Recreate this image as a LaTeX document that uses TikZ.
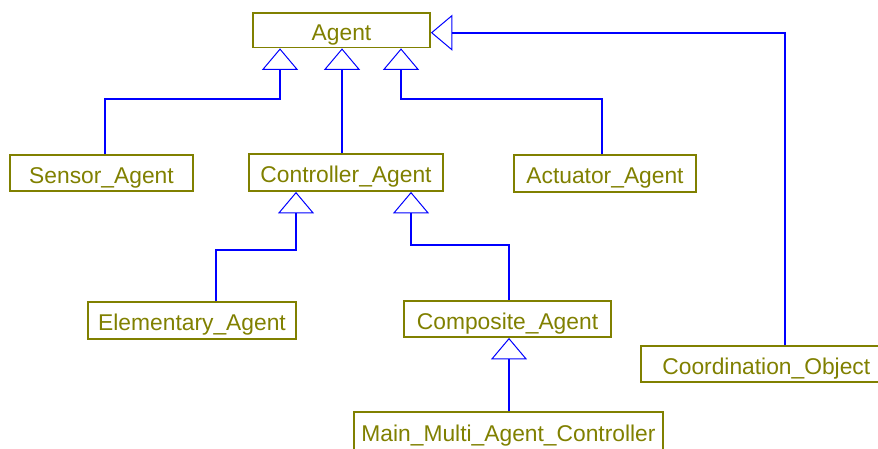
\documentclass[tikz,border=0pt]{standalone}
\usepackage{fontspec}
\setmainfont{Liberation Sans}
\usetikzlibrary{arrows.meta}
\definecolor{umlolive}{RGB}{128,128,0}
\begin{document}
\begin{tikzpicture}[x=1pt,y=-1pt,
  cls/.style={draw=umlolive, line width=1.8pt, text=umlolive, inner sep=0pt,
    text height=20pt, text depth=0pt, font=\fontsize{22.8}{27}\selectfont},
  gen/.style={draw=blue, line width=1.8pt,
    -{Triangle[open, length=21.5pt, width=36pt, line width=1pt]}}]
\useasboundingbox (0,0) rectangle (878,448);
\node[cls, minimum width=177pt, minimum height=34.5pt] (agent) at (341.5,30.2) {Agent};
\node[cls, minimum width=183pt, minimum height=36pt] (sensor) at (101.5,173) {Sensor\_Agent};
\node[cls, minimum width=194pt, minimum height=37pt] (ctrl) at (346,172.5) {Controller\_Agent};
\node[cls, minimum width=182pt, minimum height=37pt] (act) at (605,173.8) {Actuator\_Agent};
\node[cls, minimum width=208pt, minimum height=37pt] (elem) at (192,320.5) {Elementary\_Agent};
\node[cls, minimum width=207pt, minimum height=36pt] (comp) at (507.5,319) {Composite\_Agent};
\node[cls, minimum width=308.4pt, minimum height=42pt, text height=17pt] (main) at (508.5,433.3) {Main\_Multi\_Agent\_Controller};
\node[cls, minimum width=251pt, minimum height=36.6pt] (coord) at (766.3,364) {Coordination\_Object};
\draw[gen] ([xshift=3.5pt]sensor.north) -- ++(0,-55) -| ([xshift=-61.5pt]agent.south);
\draw[gen] ([xshift=-4pt]ctrl.north) -- ([xshift=0.5pt]agent.south);
\draw[gen] ([xshift=-3pt]act.north) -- ++(0,-55.3) -| ([xshift=59.5pt]agent.south);
\draw[gen] ([xshift=18.7pt]coord.north) |- ([yshift=-2.5pt]agent.east);
\draw[gen] ([xshift=24pt]elem.north) -- ++(0,-51.3) -| ([xshift=-50pt]ctrl.south);
\draw[gen] ([xshift=1.5pt]comp.north) -- ++(0,-55.3) -| ([xshift=65pt]ctrl.south);
\draw[gen] ([xshift=1.5pt]comp.south |- main.north) -- ([xshift=1.5pt]comp.south);
\end{tikzpicture}
\end{document}
